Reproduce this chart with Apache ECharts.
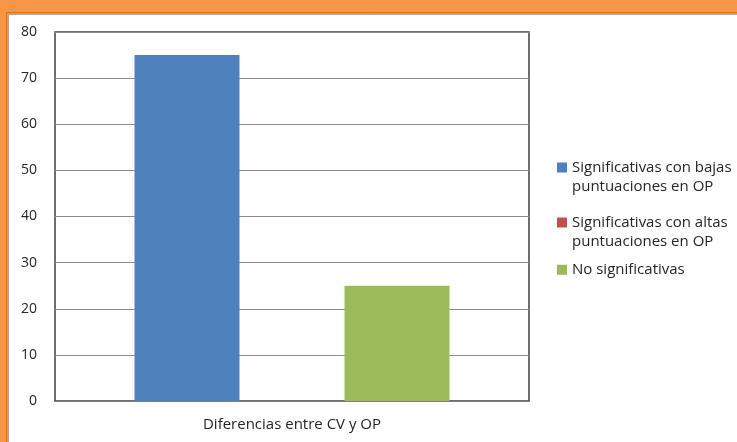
<!DOCTYPE html>
<html>
<head>
<meta charset="utf-8">
<script src="https://cdn.jsdelivr.net/npm/echarts@6/dist/echarts.min.js"></script>
<style>html,body{margin:0;padding:0;background:#F79646;}#c{width:737px;height:442px;}</style>
</head>
<body>
<div id="c"></div>
<script>
var categories = ['Diferencias entre CV y OP'];
var seriesNames = ['Significativas con bajas\npuntuaciones en OP', 'Significativas con altas\npuntuaciones en OP', 'No significativas'];
var valuesBajas = [75];
var valuesAltas = [0];
var valuesNo = [25];
var yTicks = { min: 0, max: 80, interval: 10 };
var colors = ['#4F81BD', '#C0504D', '#9BBB59'];

var chart = echarts.init(document.getElementById('c'));
var font = 'Open Sans, Liberation Sans, sans-serif';
chart.setOption({
  animation: false,
  color: colors,
  graphic: [
    { type: 'rect', z: -10, silent: true, shape: { x: 0, y: 0, width: 737, height: 442 }, style: { fill: '#F79646' } },
    { type: 'rect', z: -9, silent: true, shape: { x: 6.5, y: 12.5, width: 740, height: 440 }, style: { fill: 'none', stroke: '#E46C0A', lineWidth: 1 } },
    { type: 'rect', z: -8, silent: true, shape: { x: 8.5, y: 14.5, width: 740, height: 440 }, style: { fill: '#ffffff', stroke: '#A6A6A6', lineWidth: 1 } }
  ],
  grid: { left: 55, right: 208, top: 32, bottom: 41, show: true, borderColor: '#404040', borderWidth: 1.5, backgroundColor: 'transparent' },
  legend: {
    orient: 'vertical',
    left: 552,
    top: 136,
    itemWidth: 10,
    itemHeight: 10,
    itemGap: 2,
    icon: 'rect',
    formatter: function (name) {
      var parts = name.split('\n');
      if (parts.length > 1) {
        return '{b| }\n' + parts.map(function (p) { return '{t|' + p + '}'; }).join('\n');
      }
      return '{s| }\n{t|' + name + '}\n{s| }';
    },
    textStyle: {
      fontFamily: font, fontSize: 15, color: '#262626',
      rich: {
        t: { fontFamily: font, fontSize: 15, color: '#262626', lineHeight: 19 },
        b: { fontSize: 15, lineHeight: 19 },
        s: { fontSize: 8, lineHeight: 10.5 }
      }
    },
    data: seriesNames
  },
  xAxis: {
    type: 'category',
    data: categories,
    axisTick: { show: false },
    axisLine: { lineStyle: { color: '#808080', width: 1 } },
    axisLabel: { fontFamily: font, fontSize: 15, color: '#262626', margin: 16 }
  },
  yAxis: {
    type: 'value',
    min: yTicks.min, max: yTicks.max, interval: yTicks.interval,
    axisLine: { show: false },
    axisTick: { show: false },
    axisLabel: { fontFamily: font, fontSize: 14, color: '#262626', margin: 18, verticalAlign: 'middle', padding: [4, 0, 0, 0] },
    splitLine: { lineStyle: { color: '#8C8C8C', width: 1 } }
  },
  series: [
    { name: seriesNames[0], type: 'bar', data: valuesBajas, barWidth: 105, barGap: '0%' },
    { name: seriesNames[1], type: 'bar', data: valuesAltas, barWidth: 105, barGap: '0%' },
    { name: seriesNames[2], type: 'bar', data: valuesNo, barWidth: 105, barGap: '0%' }
  ]
});
</script>
</body>
</html>
